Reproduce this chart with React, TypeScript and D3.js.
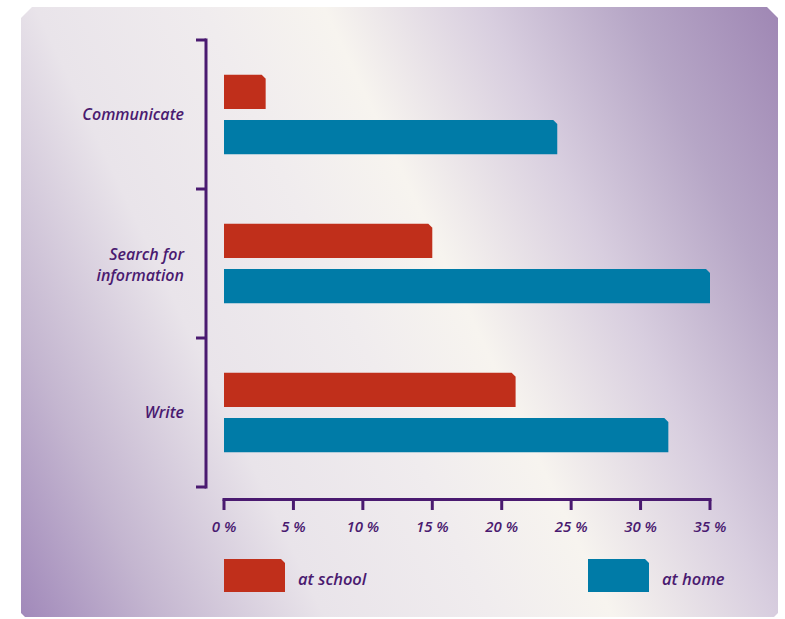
import React from "react";
import * as d3 from "d3";

const categories = ["Communicate", "Search for information", "Write"];
const categoryLines: string[][] = [["Communicate"], ["Search for", "information"], ["Write"]];
const seriesNames = ["at school", "at home"];
const seriesColors = ["#c02f1b", "#007ba7"];
const atSchool = [3, 15, 21];
const atHome = [24, 35, 32];
const xTicks = [0, 5, 10, 15, 20, 25, 30, 35];

const W = 785;
const H = 619;
const ink = "#4a1a70";
const font = "'Open Sans', 'Noto Sans', sans-serif";

function barPath(x0: number, y0: number, x1: number, y1: number, c = 4) {
  const cc = Math.min(c, Math.max(0, x1 - x0));
  return `M${x0},${y0}L${x1 - cc},${y0}L${x1},${y0 + cc}L${x1},${y1}L${x0},${y1}Z`;
}

export default function App() {
  const x = d3.scaleLinear().domain([0, 35]).range([224, 710]);
  const y = d3.scaleBand<string>().domain(categories).range([40, 487]).padding(0);
  const inner = d3
    .scaleBand<string>()
    .domain(seriesNames)
    .range([0, y.bandwidth()])
    .paddingInner(11 / 45)
    .paddingOuter(0.767);
  const values = [atSchool, atHome];

  const panel = "M32,7L767,7L778,18L778,613L774,617L25,617L21,613L21,18Z";

  const yTickPos = [...categories.map((c) => y(c)!), y.range()[1]];

  return (
    <div style={{ position: "absolute", left: 0, top: 0 }}>
      <svg width={W} height={H} viewBox={`0 0 ${W} ${H}`} style={{ display: "block" }}>
        <defs>
          <linearGradient id="bg" gradientUnits="userSpaceOnUse" x1={-153} y1={249} x2={700} y2={-156}>
            <stop offset="0" stopColor="#a189ba" />
            <stop offset="0.13" stopColor="#c4b6d0" />
            <stop offset="0.29" stopColor="#e9e4ea" />
            <stop offset="0.45" stopColor="#f0ecee" />
            <stop offset="0.566" stopColor="#f7f4ef" />
            <stop offset="0.72" stopColor="#d8cedf" />
            <stop offset="0.86" stopColor="#b6a6c6" />
            <stop offset="1" stopColor="#9f87b4" />
          </linearGradient>
        </defs>
        <rect x={0} y={0} width={W} height={H} fill="#ffffff" />
        <path d={panel} fill="url(#bg)" />

        {/* Y axis */}
        <g stroke={ink} strokeWidth={3} fill="none">
          <line x1={206} x2={206} y1={y.range()[0] - 1.5} y2={y.range()[1] + 1.5} />
          {yTickPos.map((p, i) => (
            <line key={i} x1={196} x2={206} y1={p} y2={p} />
          ))}
        </g>

        {/* Bars */}
        {categories.map((c, ci) => (
          <g key={c}>
            {seriesNames.map((s, si) => {
              const y0 = y(c)! + inner(s)!;
              const y1 = y0 + inner.bandwidth();
              return (
                <path
                  key={s}
                  d={barPath(x(0), y0, x(values[si][ci]), y1)}
                  fill={seriesColors[si]}
                />
              );
            })}
          </g>
        ))}

        {/* Category labels */}
        {categories.map((c, ci) => {
          const lines = categoryLines[ci];
          const center = y(c)! + y.bandwidth() / 2;
          const n = lines.length;
          return (
            <text
              key={c}
              textAnchor="end"
              fontFamily={font}
              fontStyle="italic"
              fontWeight={600}
              fontSize={16}
              fill={ink}
            >
              {lines.map((l, li) => (
                <tspan key={li} x={184} y={center + 5 + (li - (n - 1) / 2) * 21 + (n > 1 ? 2 : 0)}>
                  {l}
                </tspan>
              ))}
            </text>
          );
        })}

        {/* X axis */}
        <g stroke={ink} strokeWidth={3} fill="none">
          <line x1={x(0) - 1.5} x2={x(35) + 1.5} y1={499.5} y2={499.5} />
          {xTicks.map((t) => (
            <line key={t} x1={x(t)} x2={x(t)} y1={499.5} y2={510} />
          ))}
        </g>
        {xTicks.map((t) => (
          <text
            key={t}
            x={x(t)}
            y={532}
            textAnchor="middle"
            fontFamily={font}
            fontStyle="italic"
            fontWeight={600}
            fontSize={15}
            fill={ink}
          >
            {`${t} %`}
          </text>
        ))}

        {/* Legend */}
        {seriesNames.map((s, si) => {
          const lx = si === 0 ? 224 : 588;
          return (
            <g key={s}>
              <path d={barPath(lx, 559, lx + 61, 592)} fill={seriesColors[si]} />
              <text
                x={lx + 74}
                y={585}
                fontFamily={font}
                fontStyle="italic"
                fontWeight={600}
                fontSize={16.5}
                fill={ink}
              >
                {s}
              </text>
            </g>
          );
        })}
      </svg>
    </div>
  );
}
